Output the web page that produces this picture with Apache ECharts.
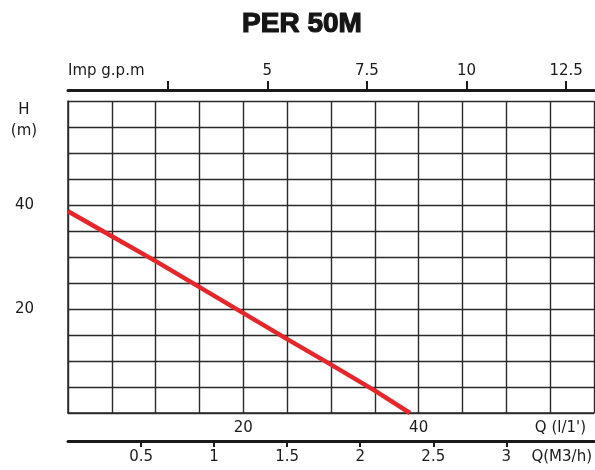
<!DOCTYPE html>
<html>
<head>
<meta charset="utf-8">
<script src="https://cdn.jsdelivr.net/npm/echarts@6/dist/echarts.min.js"></script>
<style>
html,body{margin:0;padding:0;background:#fff;}
#c{width:595px;height:470px;}
</style>
</head>
<body>
<div id="c"></div>
<script>
// Data (Q in l/min, H in m)
const qLpm = [0, 5, 10, 15, 20, 25, 30, 35, 39];
const headM = [38.8, 34.0, 29.2, 24.2, 19.2, 14.2, 9.3, 4.3, 0];
const qLabels = [20, 40];
const hLabels = [20, 40];
const gpmTicks = [2.5, 5, 7.5, 10, 12.5];
const gpmLabels = [5, 7.5, 10, 12.5];
const m3hTicks = [0.5, 1, 1.5, 2, 2.5, 3];

const Q_MAX = 60;                 // l/min
const GPM_MAX = Q_MAX / 4.54609;  // imperial gallons per minute
const M3H_MAX = Q_MAX * 0.06;     // m3/h

const FONT = 'DejaVu Sans';
const TXT = '#1a1a1a';
const GRIDC = '#2a2a2a';

const chart = echarts.init(document.getElementById('c'));
chart.setOption({
  animation: false,
  backgroundColor: '#fff',
  title: {
    text: 'PER 50M',
    left: 297, top: 5,
    textAlign: 'center',
    textStyle: { fontFamily: 'Liberation Sans', fontWeight: 'bold', fontSize: 28, color: '#151515',
                 textBorderColor: '#151515', textBorderWidth: 1.2 }
  },
  grid: { left: 68, right: 1, top: 101, bottom: 57, containLabel: false },
  xAxis: [
    {
      type: 'value', min: 0, max: Q_MAX, interval: 5, position: 'bottom',
      axisLine: { show: true, lineStyle: { color: GRIDC, width: 1.5 } },
      axisTick: { show: false },
      splitLine: { show: true, lineStyle: { color: GRIDC, width: 1.4 } },
      axisLabel: { customValues: qLabels, margin: 8, fontFamily: FONT, fontSize: 15, color: TXT },
      name: "Q (l/1')", nameLocation: 'end', nameGap: 0,
      nameTextStyle: { fontFamily: FONT, fontSize: 15, color: TXT, align: 'right', verticalAlign: 'top', padding: [8, 8, 0, 0] }
    },
    {
      type: 'value', min: 0, max: GPM_MAX, position: 'top', offset: 11,
      axisLine: { show: true, onZero: false, lineStyle: { color: '#1a1a1a', width: 3 } },
      axisTick: { show: true, customValues: gpmTicks, length: 9, lineStyle: { color: '#1a1a1a', width: 2 } },
      splitLine: { show: false },
      axisLabel: { customValues: gpmLabels, margin: 11, fontFamily: FONT, fontSize: 15, color: TXT },
      name: 'Imp g.p.m', nameLocation: 'start', nameGap: 0,
      nameTextStyle: { fontFamily: FONT, fontSize: 15, color: TXT, align: 'left', verticalAlign: 'bottom', padding: [0, 0, 11, 0] }
    },
    {
      type: 'value', min: 0, max: M3H_MAX, position: 'bottom', offset: 28,
      axisLine: { show: true, onZero: false, lineStyle: { color: '#1a1a1a', width: 3 } },
      axisTick: { show: true, customValues: m3hTicks, length: 6, lineStyle: { color: '#1a1a1a', width: 2 } },
      splitLine: { show: false },
      axisLabel: { customValues: m3hTicks, margin: 9, fontFamily: FONT, fontSize: 15, color: TXT },
      name: 'Q(M3/h)', nameLocation: 'end', nameGap: 0,
      nameTextStyle: { fontFamily: FONT, fontSize: 15, color: TXT, align: 'right', verticalAlign: 'top', padding: [9, 2, 0, 0] }
    }
  ],
  yAxis: {
    type: 'value', min: 0, max: 60, interval: 5,
    axisLine: { show: true, lineStyle: { color: GRIDC, width: 1.5 } },
    axisTick: { show: false },
    splitLine: { show: true, lineStyle: { color: GRIDC, width: 1.4 } },
    axisLabel: { customValues: hLabels, margin: 34, fontFamily: FONT, fontSize: 15, color: TXT },
    name: 'H\n(m)', nameLocation: 'end', nameGap: 1.5,
    nameTextStyle: { fontFamily: FONT, fontSize: 15, lineHeight: 21, color: TXT, align: 'center', verticalAlign: 'top', padding: [0, 88, 0, 0] }
  },
  series: [{
    type: 'line',
    xAxisIndex: 0, yAxisIndex: 0,
    data: qLpm.map((q, i) => [q, headM[i]]),
    showSymbol: false, symbol: 'none',
    lineStyle: { color: '#e5262b', width: 4.5 },
    z: 5
  }]
});
</script>
</body>
</html>
